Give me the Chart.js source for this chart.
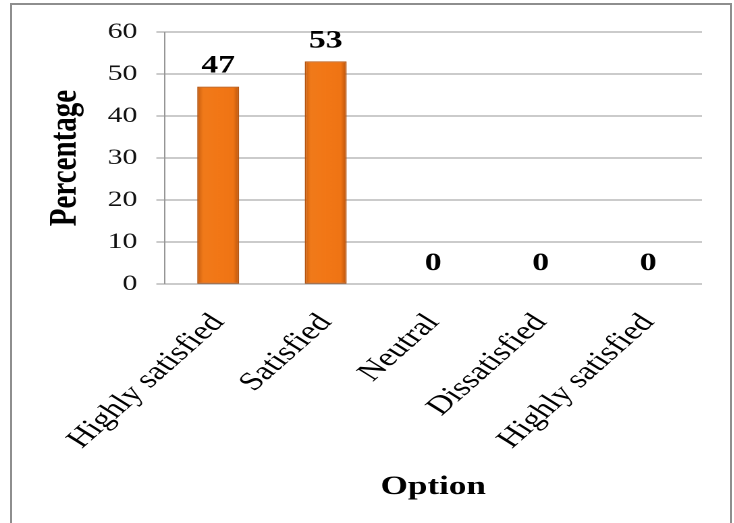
<!DOCTYPE html>
<html>
<head>
<meta charset="utf-8">
<script src="https://cdn.jsdelivr.net/npm/chart.js@4"></script>
<style>
html, body { margin: 0; padding: 0; background: #fff; overflow: hidden; }
body { width: 734px; height: 523px; position: relative; }
.frame {
    position: absolute; left: 10px; top: 3px;
    width: 718px; height: 540px;
    border: 2px solid #8e8e8e;
}
/* the original picture is stretched sideways, so the chart is too */
.wrap {
    position: absolute; left: 0; top: 0;
    width: 544px; height: 523px;
    transform: scaleX(1.35); transform-origin: 0 0;
}
</style>
</head>
<body>
<div class="frame"></div>
<div class="wrap"><canvas id="optionChart"></canvas></div>
<script>
// BAR CHART - SATISFACTION BY OPTION

const categories = ['Highly satisfied', 'Satisfied', 'Neutral', 'Dissatisfied', 'Highly satisfied'];
const percentages = [47, 53, 0, 0, 0];
const yTicks = [0, 10, 20, 30, 40, 50, 60];

const serif = '"Liberation Serif", "Times New Roman", serif';

// bevel look: darker edges, brighter middle
const barShade = {
    id: 'barShade',
    beforeDatasetsDraw(chart) {
        const ctx = chart.ctx;
        chart.getDatasetMeta(0).data.forEach(function (bar) {
            const left = bar.x - bar.width / 2;
            const g = ctx.createLinearGradient(left, 0, left + bar.width, 0);
            g.addColorStop(0, '#c65c0e');
            g.addColorStop(0.14, '#f07a1a');
            g.addColorStop(0.5, '#f27716');
            g.addColorStop(0.86, '#ef7414');
            g.addColorStop(1, '#b9530b');
            bar.options.backgroundColor = g;
        });
    }
};

// value labels above each bar
const valueLabels = {
    id: 'valueLabels',
    afterDatasetsDraw(chart) {
        const ctx = chart.ctx;
        ctx.save();
        ctx.font = 'bold 25px ' + serif;
        ctx.fillStyle = '#000';
        ctx.textAlign = 'center';
        ctx.textBaseline = 'bottom';
        chart.getDatasetMeta(0).data.forEach(function (bar, i) {
            ctx.fillText(percentages[i], bar.x, bar.y - 8);
        });
        ctx.restore();
    }
};

const ctx = document.getElementById('optionChart');

new Chart(ctx, {
    type: 'bar',
    data: {
        labels: categories,
        datasets: [{
            label: 'Percentage',
            data: percentages,
            backgroundColor: function () { return '#f07516'; },
            borderColor: '#b5520c',
            borderWidth: 1,
            borderSkipped: false,
            categoryPercentage: 1,
            barPercentage: 0.39
        }]
    },
    plugins: [barShade, valueLabels],
    options: {
        responsive: true,
        maintainAspectRatio: false,
        devicePixelRatio: 2,
        animation: false,
        layout: {
            padding: { top: 32, left: 31, right: 24, bottom: 20 }
        },
        plugins: {
            legend: { display: false },
            tooltip: { enabled: false }
        },
        scales: {
            x: {
                grid: { display: false, drawTicks: false },
                border: { display: false },
                ticks: {
                    color: '#000',
                    autoSkip: false,
                    minRotation: 50,
                    maxRotation: 50,
                    padding: 24,
                    font: { family: serif, size: 26 }
                },
                title: {
                    display: true,
                    text: 'Option',
                    color: '#000',
                    padding: { top: -7, bottom: 0 },
                    font: { family: serif, size: 26, weight: 'bold' }
                }
            },
            y: {
                min: 0,
                max: 60,
                afterBuildTicks: function (axis) {
                    axis.ticks = yTicks.map(function (v) { return { value: v }; });
                },
                grid: {
                    color: '#969696',
                    lineWidth: 1,
                    tickLength: 6
                },
                border: { display: true, color: '#969696' },
                ticks: {
                    color: '#111',
                    padding: 14,
                    font: { family: serif, size: 22 }
                },
                title: {
                    display: true,
                    text: 'Percentage',
                    color: '#000',
                    padding: { top: 0, bottom: 0 },
                    font: { family: serif, size: 29, weight: 'bold' }
                }
            }
        }
    }
});
</script>
</body>
</html>
